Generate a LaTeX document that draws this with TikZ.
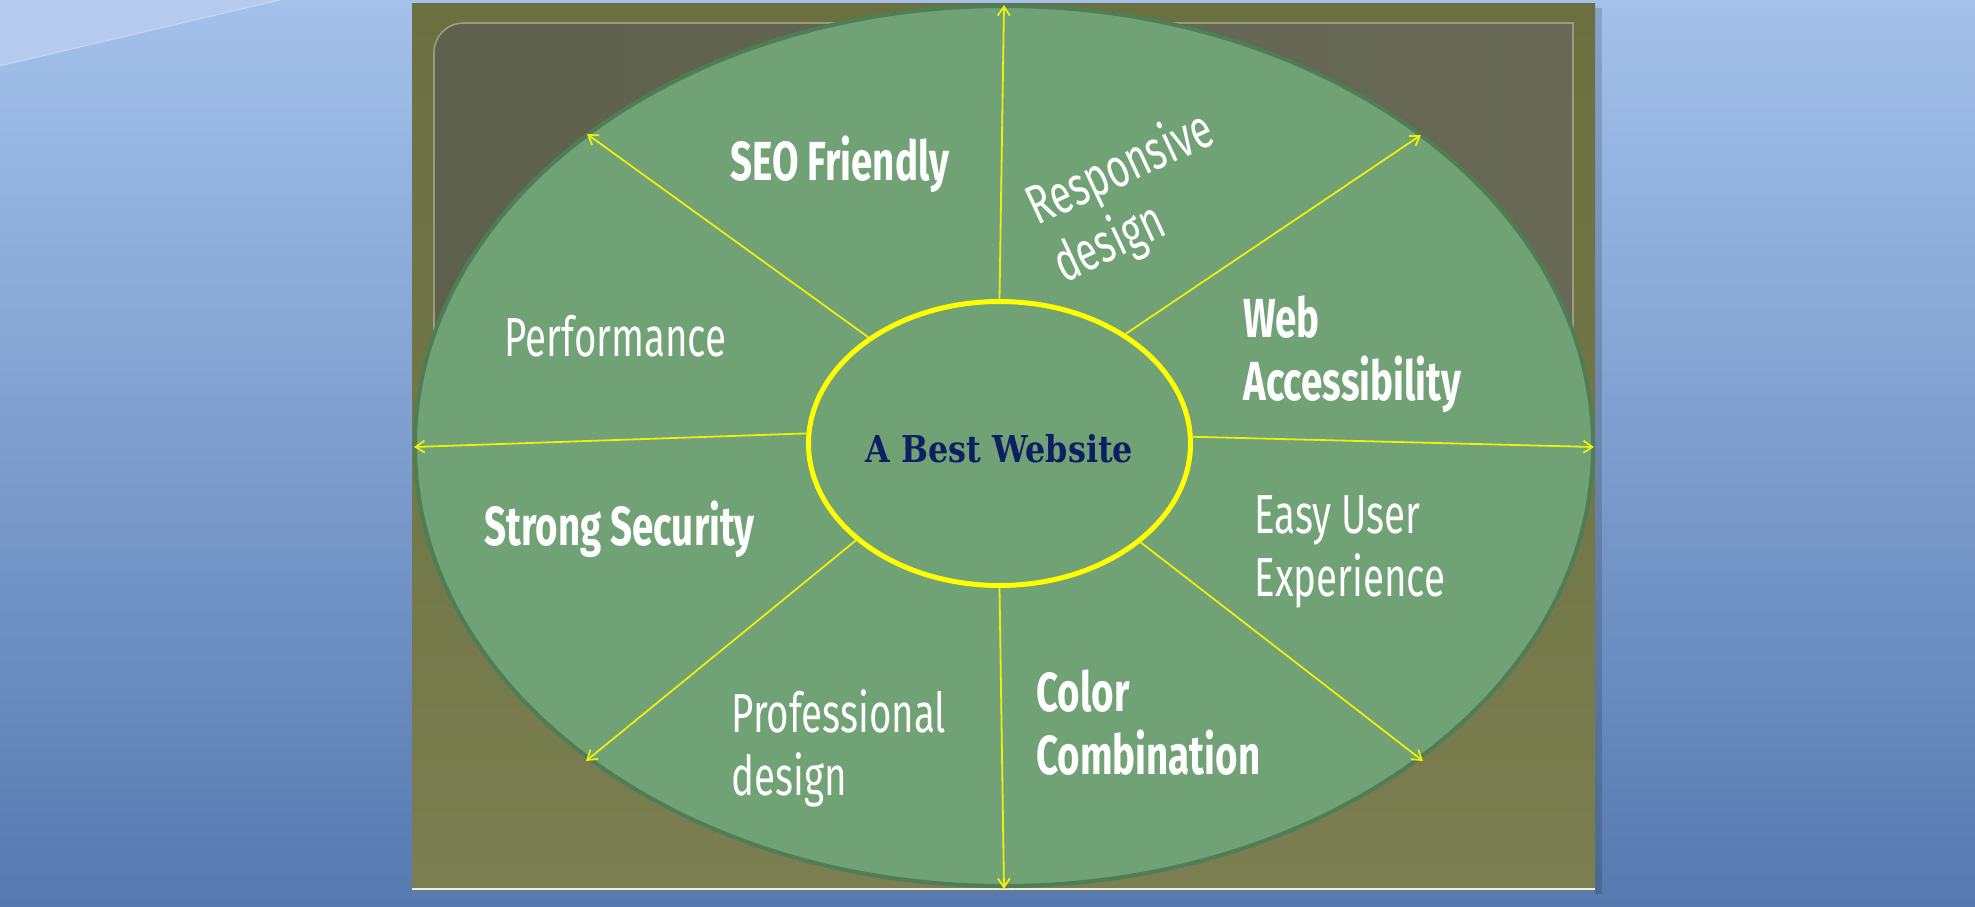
\documentclass[tikz,border=0pt]{standalone}
\usepackage{fontspec}
\usepackage{tikz}
\usetikzlibrary{arrows.meta, shapes.geometric}
\newfontfamily\featfont{Fira Sans}[FakeStretch=0.7]
\newfontfamily\hubfont{DejaVu Serif}[FakeStretch=0.86]
\definecolor{bgtop}{HTML}{A3C1EA}
\definecolor{bgmid}{HTML}{8BAAD8}
\definecolor{bgbot}{HTML}{5679B0}
\definecolor{swoosh}{HTML}{B6CCEE}
\definecolor{olivetop}{HTML}{6A703F}
\definecolor{olivebot}{HTML}{7A7E50}
\definecolor{paneleft}{HTML}{5E624C}
\definecolor{paneright}{HTML}{676955}
\definecolor{paneedge}{HTML}{9A9C80}
\definecolor{rimfill}{HTML}{70A275}
\definecolor{rimedge}{HTML}{4F7D56}
\definecolor{hubring}{HTML}{FFFF00}
\definecolor{spokecol}{HTML}{EEEE10}
\definecolor{hubtext}{HTML}{0D1F63}
\tikzset{
  feat/.style={text=white, inner sep=0pt, align=left, font=\featfont\fontsize{27.5}{31.5}\selectfont},
  featbf/.style={feat, font=\featfont\bfseries\fontsize{27.5}{31.5}\selectfont},
  hub/.style={ellipse, draw=hubring, line width=2.5pt, minimum width=191pt, minimum height=142pt,
    inner sep=0pt, inner xsep=-10pt, text=hubtext, font=\hubfont\bfseries\fontsize{18.5}{22}\selectfont,
    text height=18.5pt, text depth=0pt},
  spoke/.style={draw=spokecol, line width=0.9pt, -{Straight Barb[length=4.5pt,width=6pt]}}
}

\begin{document}
\begin{tikzpicture}[x=0.5pt, y=-0.5pt]

    \useasboundingbox (0,0) rectangle (1975,906);

    % backdrop
    \fill[top color=bgtop, middle color=bgmid, bottom color=bgbot] (0,0) rectangle (1975,906);
    \fill[swoosh] (0,0) -- (280,0) -- (0,66) -- cycle;
    \draw[white, opacity=0.3, line width=0.5pt] (0,66) -- (280,0);

    % slide
    \fill[black, opacity=0.15] (1595,8) rectangle (1602,894);
    \fill[top color=olivetop, bottom color=olivebot] (412,3) rectangle (1595,890);
    \path[left color=paneleft, right color=paneright, draw=paneedge, line width=0.8pt]
      (434,440) -- (434,53) .. controls (434,36) and (447,23) .. (464,23) -- (1573,23) -- (1573,440) -- cycle;
    \draw[white!85!olivebot, line width=1pt] (412,889) -- (1595,889);

    % rim
    \filldraw[fill=rimfill, draw=rimedge, line width=2pt] (1004,446) ellipse [x radius=589, y radius=440];

    \node[hub] (hub) at (999.5,443.5) {A Best Website};

    \coordinate (tN) at (1004,5);
    \coordinate (tNE) at (1421,135);
    \coordinate (tE) at (1594,447);
    \coordinate (tSE) at (1423,761);
    \coordinate (tS) at (1004,889);
    \coordinate (tSW) at (586,761);
    \coordinate (tW) at (414,447);
    \coordinate (tNW) at (587,134);

    \foreach \ang/\tip in {90/tN, 41.6/tNE, 2.5/tE, 325.3/tSE, 270/tS, 214.5/tSW, 177.2/tW, 141/tNW}
      \draw[spoke] (hub.\ang) -- (\tip);

    \node[featbf, anchor=base west] (seo) at (730,180) {SEO Friendly};
    \node[feat, rotate=25] (resp) at (1134,198.5) {Responsive\\design};
    \node[featbf, anchor=west] (web) at (1243,354.5) {Web\\Accessibility};
    \node[feat, anchor=base west] (perf) at (504,356) {Performance};
    \node[featbf, anchor=base west] (secur) at (484,545) {Strong Security};
    \node[feat, anchor=west] (ux) at (1254,552) {Easy User\\Experience};
    \node[feat, anchor=west] (prof) at (731,748) {Professional\\design};
    \node[featbf, anchor=west] (color) at (1036,723) {Color\\Combination};
  \end{tikzpicture}
\end{document}
